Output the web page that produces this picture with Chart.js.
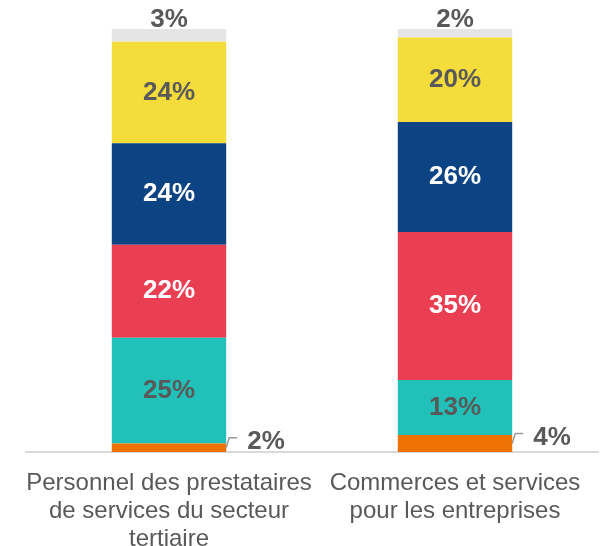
<!DOCTYPE html>
<html>
<head>
<meta charset="utf-8">
<script src="https://cdn.jsdelivr.net/npm/chart.js@4/dist/chart.umd.min.js"></script>
<style>
  html, body { margin: 0; padding: 0; background: #fff; }
</style>
</head>
<body>
<canvas id="chart" width="600" height="546"></canvas>
<script>
// Categories (multi-line x labels)
var categories = [
  ['Personnel des prestataires', 'de services du secteur', 'tertiaire'],
  ['Commerces et services', 'pour les entreprises']
];

// Shares in %, stacked from the bottom up
var share1 = [2, 4];
var share2 = [25, 13];
var share3 = [22, 35];
var share4 = [24, 26];
var share5 = [24, 20];
var share6 = [3, 2];

var FONT = '"Liberation Sans", Arial, Helvetica, sans-serif';
var TEXT_GREY = '#595959';

// Value labels: centered in the segment, above the bar, or off to the side with a leader
var valueLabels = {
  id: 'valueLabels',
  afterDatasetsDraw: function(chart) {
    var ctx = chart.ctx;
    ctx.save();
    ctx.font = 'bold 26px ' + FONT;
    ctx.textBaseline = 'middle';
    chart.data.datasets.forEach(function(ds, i) {
      var meta = chart.getDatasetMeta(i);
      meta.data.forEach(function(bar, j) {
        var text = ds.data[j] + '%';
        var top = bar.y, bottom = bar.base;
        var mid = (top + bottom) / 2;
        var right = bar.x + bar.width / 2;
        ctx.fillStyle = ds.labelColor;
        if (ds.labelPos === 'side') {
          ctx.strokeStyle = '#9a9a9a';
          ctx.lineWidth = 1.5;
          ctx.beginPath();
          ctx.moveTo(right, mid);
          ctx.lineTo(right + 3, mid - 10);
          ctx.lineTo(right + 11, mid - 10);
          ctx.stroke();
          ctx.textAlign = 'left';
          ctx.fillText(text, right + 21, mid - 6);
        } else if (ds.labelPos === 'above') {
          ctx.textAlign = 'center';
          ctx.fillText(text, bar.x, top - 9);
        } else {
          ctx.textAlign = 'center';
          ctx.fillText(text, bar.x, mid);
        }
      });
    });
    ctx.restore();
  }
};

new Chart(document.getElementById('chart'), {
  type: 'bar',
  data: {
    labels: categories,
    datasets: [
      { data: share1, backgroundColor: '#ee7203', labelPos: 'side', labelColor: TEXT_GREY },
      { data: share2, backgroundColor: '#21c1b9', labelPos: 'center', labelColor: TEXT_GREY },
      { data: share3, backgroundColor: '#ea3e53', labelPos: 'center', labelColor: '#ffffff' },
      { data: share4, backgroundColor: '#0c4383', labelPos: 'center', labelColor: '#ffffff' },
      { data: share5, backgroundColor: '#f4dc3b', labelPos: 'center', labelColor: TEXT_GREY },
      { data: share6, backgroundColor: '#e5e5e5', labelPos: 'above', labelColor: TEXT_GREY }
    ]
  },
  options: {
    responsive: false,
    animation: false,
    layout: { padding: { top: 29, left: 26, right: 2, bottom: 0 } },
    datasets: {
      bar: { categoryPercentage: 1, barPercentage: 0.4, borderWidth: 0 }
    },
    plugins: {
      legend: { display: false },
      tooltip: { enabled: false }
    },
    scales: {
      x: {
        stacked: true,
        grid: { display: false, drawTicks: false },
        border: { display: true, color: '#d9d9d9', width: 2 },
        ticks: {
          color: TEXT_GREY,
          font: { family: FONT, size: 24, lineHeight: 1.17 },
          padding: 17,
          maxRotation: 0,
          autoSkip: false
        },
        afterFit: function(scale) { scale.height = 94; }
      },
      y: {
        stacked: true,
        display: false,
        min: 0,
        max: 100
      }
    }
  },
  plugins: [valueLabels]
});
</script>
</body>
</html>
